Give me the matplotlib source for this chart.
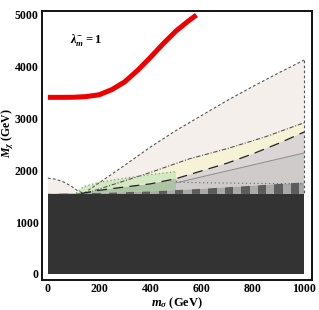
import numpy as np
import matplotlib
matplotlib.use("Agg")
import matplotlib.pyplot as plt
from matplotlib.patches import Polygon

plt.rcParams['font.family'] = ['Liberation Serif', 'DejaVu Serif']
plt.rcParams['font.weight'] = 'bold'
plt.rcParams['mathtext.fontset'] = 'custom'
plt.rcParams['mathtext.rm'] = 'Liberation Serif:bold'
plt.rcParams['mathtext.it'] = 'Liberation Serif:bold:italic'
plt.rcParams['mathtext.bf'] = 'Liberation Serif:bold'

# ---------------- data ----------------
# red curve
red_x = [0, 50, 100, 150, 200, 250, 300, 350, 400, 450, 500, 550, 580]
red_y = [3410, 3410, 3412, 3425, 3460, 3560, 3710, 3930, 4180, 4445, 4690, 4890, 5000]

# dark excluded region top
dark_top = 1550
dark_x = [0, 1000]

# beige (dashed) region upper boundary
beige_x = [0, 30, 60, 90, 115, 140, 200, 300, 400, 500, 600, 700, 800, 900, 1000]
beige_y = [1850, 1830, 1780, 1700, 1610, 1555, 1760, 2100, 2450, 2770, 3060, 3350, 3620, 3880, 4130]

# dash-dot (yellow region upper boundary)
dd_x = [150, 250, 400, 550, 700, 850, 1000]
dd_y = [1560, 1720, 1960, 2220, 2420, 2650, 2920]

# long-dashed line (top of green / gray regions)
ld_x = [130, 200, 300, 400, 500, 600, 700, 800, 900, 1000]
ld_y = [1555, 1615, 1680, 1740, 1840, 1990, 2140, 2320, 2520, 2740]

# green dotted boundary
gd_x = [110, 140, 200, 300, 400, 500]
gd_y = [1560, 1690, 1770, 1850, 1920, 1975]

# thin gray line inside gray region
tg_x = [500, 1000]
tg_y = [1760, 2336]

# gray dotted line (lower boundary of gray region)
gdot_x = [500, 520, 600, 700, 800, 900, 1000]
gdot_y = [1790, 1770, 1762, 1756, 1750, 1745, 1740]

# striped band top
st_x = [0, 200, 400, 600, 800, 1000]
st_y = [1550, 1565, 1595, 1645, 1705, 1770]

x_ticks = [0, 200, 400, 600, 800, 1000]
y_ticks = [0, 1000, 2000, 3000, 4000, 5000]

# ---------------- figure ----------------
fig = plt.figure(figsize=(3.19, 3.10), dpi=100)
ax = fig.add_axes([42/319, 1-280/310, 270/319, 269/310])
ax.set_xlim(-23, 1031)
ax.set_ylim(-116, 5077)


def poly(xu, yu, xl, yl, **kw):
    xs = np.r_[xu, np.asarray(xl)[::-1]]
    ys = np.r_[yu, np.asarray(yl)[::-1]]
    return ax.fill(xs, ys, **kw)


def sub(xs, ys, lo, hi):
    xs = np.asarray(xs, float); ys = np.asarray(ys, float)
    m = (xs > lo) & (xs < hi)
    xx = np.r_[lo, xs[m], hi]
    yy = np.r_[np.interp(lo, xs, ys), ys[m], np.interp(hi, xs, ys)]
    return xx, yy

# beige region
poly(beige_x, beige_y, [0, 1000], [dark_top, dark_top], color='#f4efeb', lw=0, zorder=1)
# yellow region between dash-dot and long dash
poly(dd_x, dd_y, *sub(ld_x, ld_y, 150, 1000), color='#f5f2d6', lw=0, zorder=2)
# light green region
gx, gy = sub(ld_x, ld_y, 130, 500)
poly(gd_x, gd_y, [130, 500], [1555, 1840], color='#d3e8c3', lw=0, zorder=3)
# dark green below long dash, x in 130..500
sx, sy = sub(st_x, st_y, 130, 500)
poly(gx, gy, sx, sy, color='#abc4a1', lw=0, zorder=4)
# gray region (upper part, between long dash and thin line)
ux, uy = sub(ld_x, ld_y, 500, 1000)
poly(ux, uy, tg_x, tg_y, color='#dbd6d5', lw=0, zorder=4)
sx2, sy2 = sub(st_x, st_y, 500, 1000)
poly(tg_x, tg_y, sx2, sy2, color='#cfcbcb', lw=0, zorder=4)

# stripes band
band = Polygon(np.c_[np.r_[st_x, 1000, 0], np.r_[st_y, dark_top - 5, dark_top - 5]], closed=True,
               facecolor='none', edgecolor='none')
ax.add_patch(band)
edges = np.arange(-20, 1000, 32.3)
for i, e in enumerate(edges):
    c = '#5c5c5c' if i % 2 == 0 else '#a9a9a9'
    r = ax.fill_between([max(e, 0), min(e + 32.3, 1000)], dark_top - 5, 1800, color=c, lw=0, zorder=5)
    r.set_clip_path(band)

# dark region
ax.fill_between(dark_x, 0, dark_top, color='#333333', lw=0, zorder=6)

# lines
ax.plot(beige_x, beige_y, color='#555555', lw=0.8, ls=(0, (2.5, 2)), zorder=7)
ax.plot([1000, 1000], [beige_y[-1], dark_top], color='#555555', lw=0.8, ls=(0, (2.5, 2)), zorder=7)
ax.plot(dd_x, dd_y, color='#555555', lw=0.8, ls=(0, (4, 1.5, 1, 1.5)), zorder=7)
ax.plot(ld_x, ld_y, color='#222222', lw=0.9, ls=(0, (8, 5)), zorder=7)
ax.plot(tg_x, tg_y, color='#8a8a8a', lw=0.7, zorder=7)
ax.plot(gdot_x, gdot_y, color='#666666', lw=0.8, ls=(0, (1, 2.5)), zorder=7)
ax.plot(gd_x, gd_y, color='#7fa56c', lw=0.9, ls=(0, (1, 2)), zorder=7)
ax.plot(red_x, red_y, color='#ee0000', lw=3.6, solid_capstyle='butt', zorder=8, clip_on=False)

ax.text(86, 4517, r'$\lambda_m^{-} = 1$', fontsize=9, ha='left', va='center', zorder=9)

ax.set_xticks(x_ticks)
ax.set_yticks(y_ticks)
ax.tick_params(axis='both', length=0, labelsize=8.5, pad=2.5)
for lab in ax.get_xticklabels() + ax.get_yticklabels():
    lab.set_fontweight('bold')
for sp in ax.spines.values():
    sp.set_linewidth(1.4)
    sp.set_color('#111111')

ax.set_xlabel(r'$m_\sigma$ (GeV)', fontsize=9, fontweight='bold', va='center')
ax.set_ylabel(r'$M_\chi$ (GeV)', fontsize=8.5, fontweight='bold', va='center')
ax.xaxis.set_label_coords(0.5, -0.086)
ax.yaxis.set_label_coords(-0.128, 0.546)

fig.savefig('out.png', dpi=100)
